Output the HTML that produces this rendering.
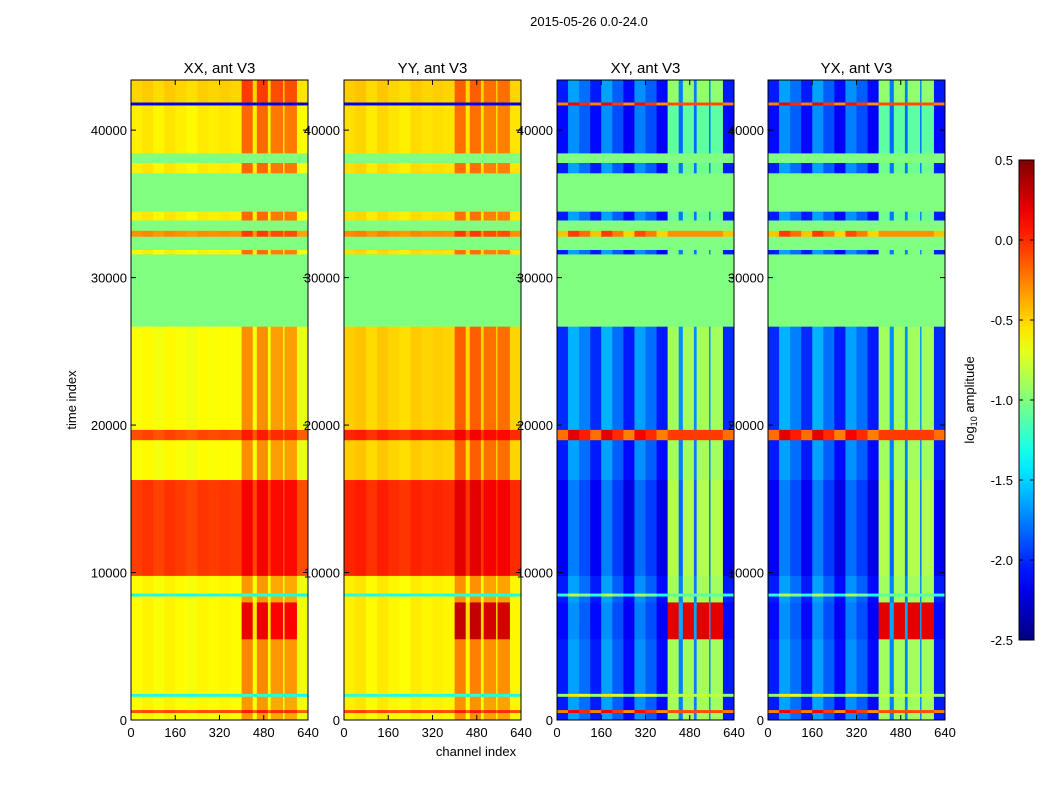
<!DOCTYPE html>
<html><head><meta charset="utf-8"><style>
body{margin:0;background:#fff;}
svg text{font-family:"Liberation Sans",sans-serif;}
</style></head><body>
<svg id="chart" width="1050" height="800" xmlns="http://www.w3.org/2000/svg">
<rect width="1050" height="800" fill="#fff"/>
<text x="589" y="26" font-size="13" text-anchor="middle">2015-05-26 0.0-24.0</text>
<text x="0" y="0" font-size="13" text-anchor="middle" transform="translate(76,400) rotate(-90)">time index</text>
<text x="476" y="756" font-size="13" text-anchor="middle">channel index</text>
<g id="panels"></g>
<g id="cbar"></g>
<text x="0" y="0" font-size="13" text-anchor="middle" transform="translate(974,400) rotate(-90)">log<tspan font-size="9" dy="3">10</tspan><tspan dy="-3"> amplitude</tspan></text>
</svg>
<script>
// time band edges (shared)
const bandEdges=[0,500,700,1600,1800,5500,8000,8400,8600,9800,16300,19000,19700,26700,31600,31900,32800,33200,33900,34500,37100,37800,38450,41700,41900,43400];
// channel segment edges
const chanEdges=[0,40,80,120,160,200,240,280,320,360,400,440,455,495,505,550,555,600,640];
const activeMask=[0,0,0,0,0,0,0,0,0,0,1,0.15,1,0.15,1,0.15,1,0];
const M=null; // masked (flagged) band
const xxLevel=[-0.62,-0.1,-0.62,-1.3,-0.62,-0.62,-0.62,-1.3,-0.62,-0.05,-0.64,-0.1,-0.64,M,-0.6,M,-0.3,M,-0.58,M,-0.58,M,-0.58,-2.2,-0.5];
const xxBoost=[0.25,0.1,0.25,0,0.3,0.75,0.25,0,0.25,0.15,0.3,0.1,0.3,0,0.35,0,0.2,0,0.35,0,0.35,0,0.35,0,0.4];
const xxCol=[0,0.03,-0.02,0.03,0,-0.03,0.02,0,0.02,0,0.05,-0.05,0.05,-0.05,0,-0.05,0,-0.05];
const yyLevel=[-0.6,-0.1,-0.6,-1.3,-0.6,-0.6,-0.6,-1.3,-0.6,0.0,-0.5,0.0,-0.5,M,-0.55,M,-0.3,M,-0.55,M,-0.55,M,-0.55,-2.2,-0.5];
const yyBoost=[0.25,0.1,0.25,0,0.3,0.85,0.25,0,0.25,0.15,0.3,0.1,0.3,0,0.3,0,0.2,0,0.3,0,0.3,0,0.3,0,0.3];
const yyCol=[0.02,0.05,-0.02,0.04,0,-0.03,0.03,0,0.02,0,0.05,-0.05,0.05,-0.05,0,-0.05,0,0];
const xyLevel=[-1.9,-0.1,-1.9,-0.8,-1.9,-1.95,-1.9,-1.1,-1.9,-2.0,-1.9,-0.05,-1.85,M,-1.9,M,-0.3,M,-1.9,M,-1.9,M,-1.95,-0.1,-1.9];
const xyBoost=[1.0,0,1.0,0,1.0,2.15,1.0,0,1.0,1.15,1.0,0,0.95,0,0.9,0,0,0,0.85,0,0.85,0,0.85,0,0.95];
const xyCol=[-0.15,0.25,0.1,-0.15,0.25,0.05,-0.2,0.2,0.05,-0.2,0,0,0,0,0,0,0,-0.15];
const yxLevel=[-1.9,-0.1,-1.9,-0.8,-1.9,-1.95,-1.9,-1.1,-1.9,-2.0,-1.9,-0.05,-1.85,M,-1.9,M,-0.3,M,-1.9,M,-1.9,M,-1.95,-0.1,-1.9];
const yxBoost=[1.0,0,1.0,0,1.0,2.15,1.0,0,1.0,1.15,1.0,0,0.95,0,0.9,0,0,0,0.85,0,0.85,0,0.85,0,0.95];
const yxCol=[-0.15,0.25,0.1,-0.15,0.25,0.05,-0.2,0.2,0.05,-0.2,0,0,0,0,0,0,0,-0.15];
const panelTitles=["XX, ant V3","YY, ant V3","XY, ant V3","YX, ant V3"];
const xTicks=[0,160,320,480,640];
const yTicks=[0,10000,20000,30000,40000];
const cbTicks=[0.5,0.0,-0.5,-1.0,-1.5,-2.0,-2.5];

const panelsData=[[xxLevel,xxBoost,xxCol],[yyLevel,yyBoost,yyCol],[xyLevel,xyBoost,xyCol],[yxLevel,yxBoost,yxCol]];
const panelX=[131,344,557,768], PW=177, PT=80, PB=720;
const TMAX=43400, VMIN=-2.5, VMAX=0.5;
const NS="http://www.w3.org/2000/svg";
function jet(t){t=Math.max(0,Math.min(1,t));
 const r=Math.max(0,Math.min(1,Math.min(4*t-1.5,-4*t+4.5)));
 const g=Math.max(0,Math.min(1,Math.min(4*t-0.5,-4*t+3.5)));
 const b=Math.max(0,Math.min(1,Math.min(4*t+0.5,-4*t+2.5)));
 return `rgb(${Math.round(r*255)},${Math.round(g*255)},${Math.round(b*255)})`;}
function col(v){return jet((v-VMIN)/(VMAX-VMIN));}
function el(tag,attrs,parent){const e=document.createElementNS(NS,tag);for(const k in attrs)e.setAttribute(k,attrs[k]);parent.appendChild(e);return e;}
const yS=t=>PB-(t/TMAX)*(PB-PT);
const root=document.getElementById('panels');
panelsData.forEach((pd,p)=>{
 const x0=panelX[p]; const xS=c=>x0+c/640*PW;
 const g=el('g',{},root);
 
 
 const [lev,boost,cOff]=pd;
 for(let b=0;b<lev.length;b++){
  const y1=yS(bandEdges[b+1]), y0=yS(bandEdges[b]);
  for(let c=0;c<chanEdges.length-1;c++){
   const v=lev[b]===null?-1.0:lev[b]+cOff[c]+boost[b]*activeMask[c];
   const r=el('rect',{x:xS(chanEdges[c]),y:y1,width:xS(chanEdges[c+1])-xS(chanEdges[c])+0.4,height:y0-y1+0.4,fill:col(v)},g);
   
   
  }
 }
 el('rect',{x:x0,y:PT,width:PW,height:PB-PT,fill:'none',stroke:'#000','stroke-width':1},g);
 const t=el('text',{x:x0+PW/2,y:73,'font-size':15,'text-anchor':'middle'},g);
 t.textContent=panelTitles[p];
 
 
 xTicks.forEach(v=>{const x=xS(v);
  el('line',{x1:x,x2:x,y1:PB,y2:PB-5,stroke:'#000'},g);
  el('line',{x1:x,x2:x,y1:PT,y2:PT+5,stroke:'#000'},g);
  const tx=el('text',{x:x,y:737,'font-size':13,'text-anchor':'middle'},g);tx.textContent=v;
  
  });
 yTicks.forEach(v=>{const y=yS(v);
  el('line',{x1:x0,x2:x0+5,y1:y,y2:y,stroke:'#000'},g);
  el('line',{x1:x0+PW,x2:x0+PW-5,y1:y,y2:y,stroke:'#000'},g);
  const ty=el('text',{x:x0-4,y:y+5,'font-size':13,'text-anchor':'end'},g);ty.textContent=v;
  
  });
});
// colorbar
const cb=document.getElementById('cbar');
const CX=1019,CW=15,CT=160,CB=640;
const defs=el('defs',{},cb);
const lg=el('linearGradient',{id:'jetg',x1:0,y1:1,x2:0,y2:0},defs);
for(let i=0;i<=20;i++)el('stop',{offset:i/20,'stop-color':jet(i/20)},lg);
el('rect',{x:CX,y:CT,width:CW,height:CB-CT,fill:'url(#jetg)',stroke:'#000'},cb);
cbTicks.forEach(v=>{const y=CB-(v-VMIN)/(VMAX-VMIN)*(CB-CT);
 el('line',{x1:CX,x2:CX+4,y1:y,y2:y,stroke:'#000'},cb);
 el('line',{x1:CX+CW,x2:CX+CW-4,y1:y,y2:y,stroke:'#000'},cb);
 const t=el('text',{x:CX-6,y:y+5,'font-size':13,'text-anchor':'end'},cb);t.textContent=v.toFixed(1);
 
 });
</script>
</body></html>
